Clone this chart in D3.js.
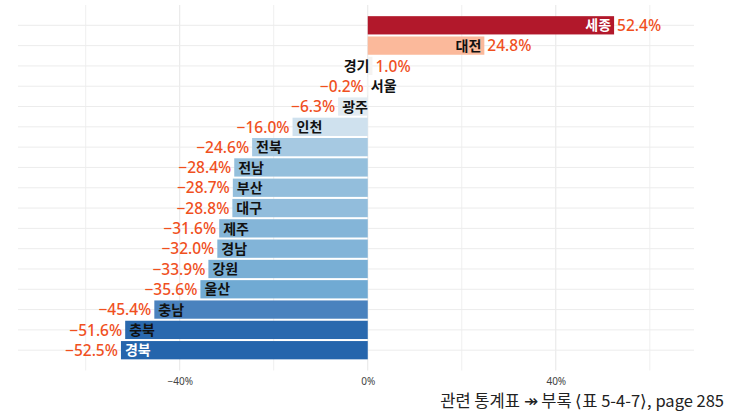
<!DOCTYPE html>
<html><head><meta charset="utf-8">
<script src="https://cdn.jsdelivr.net/npm/d3@7"></script>
<style>body{margin:0;background:#fff;}svg{display:block;}</style>
</head><body>
<script>
const regions = ["세종","대전","경기","서울","광주","인천","전북","전남","부산","대구","제주","경남","강원","울산","충남","충북","경북"];
const changes = [52.4,24.8,1.0,-0.2,-6.3,-16.0,-24.6,-28.4,-28.7,-28.8,-31.6,-32.0,-33.9,-35.6,-45.4,-51.6,-52.5];
const tickValues = [-40,0,40];
const tickLabels = ["-40%","0%","40%"];
const caption = "관련 통계표 ↠ 부록 ⟨표 5-4-7⟩, page 285";

const W=753,H=413;
const panel={left:18,right:694,top:5,bottom:370.5};
const svg=d3.select("body").append("svg").attr("width",W).attr("height",H);

const x=d3.scaleLinear().domain([-74.4,69.4]).range([panel.left,panel.right]);
const y=d3.scaleBand().domain(regions).range([panel.top,panel.bottom]).paddingInner(0.1).paddingOuter(0.55);
const fill=d3.scaleLinear()
  .domain([-52.5,-45.4,-35.6,-28.6,-16,-6.3,0,24.8,52.4])
  .range(["#2565AC","#4A82BE","#70AAD3","#93BEDC","#CFE1EE","#E2EBF2","#F5F5F5","#FBB99B","#B2182B"]);

// grid
const g=svg.append("g");
d3.range(-60,61,20).forEach(v=>{
  g.append("line").attr("x1",x(v)).attr("x2",x(v)).attr("y1",panel.top).attr("y2",panel.bottom)
   .attr("stroke",tickValues.includes(v)?"#E6E6E6":"#EFEFEF").attr("stroke-width",1);
});
regions.forEach(r=>{
  const cy=y(r)+y.bandwidth()/2;
  g.append("line").attr("x1",panel.left).attr("x2",panel.right).attr("y1",cy).attr("y2",cy)
   .attr("stroke","#ECECEC").attr("stroke-width",1);
});

// bars
svg.append("g").selectAll("rect").data(regions).join("rect")
  .attr("x",(d,i)=>x(Math.min(0,changes[i])))
  .attr("width",(d,i)=>Math.abs(x(changes[i])-x(0)))
  .attr("y",d=>y(d)).attr("height",y.bandwidth())
  .attr("fill",(d,i)=>fill(changes[i]));

const fmt=v=>(v<0?"−":"")+Math.abs(v).toFixed(1)+"%";
const pad=3;
// names
svg.append("g").selectAll("text").data(regions).join("text")
  .attr("x",(d,i)=>changes[i]>=0? x(changes[i])-pad : x(changes[i])+pad+1)
  .attr("y",d=>y(d)+y.bandwidth()/2)
  .attr("dy","0.37em")
  .attr("text-anchor",(d,i)=>changes[i]>=0?"end":"start")
  .attr("font-family","'Noto Sans CJK KR','Noto Sans',sans-serif")
  .attr("font-size",14).attr("font-weight",600)
  .attr("fill",(d,i)=>Math.abs(changes[i])>52?"#ffffff":"#111111")
  .text(d=>d);
// values
svg.append("g").selectAll("text").data(regions).join("text")
  .attr("x",(d,i)=>changes[i]>=0? x(changes[i])+pad : x(changes[i])-pad)
  .attr("y",d=>y(d)+y.bandwidth()/2)
  .attr("dy","0.37em")
  .attr("text-anchor",(d,i)=>changes[i]>=0?"start":"end")
  .attr("font-family","'Noto Sans',sans-serif")
  .attr("font-size",15.5).attr("font-weight",500)
  .attr("fill","#F0501E")
  .text((d,i)=>fmt(changes[i]));

// axis
const ax=d3.axisBottom(x).tickValues(tickValues).tickSize(0).tickFormat((d,i)=>tickLabels[i].replace("-","−"));
const axg=svg.append("g").attr("transform",`translate(0,${panel.bottom})`).call(ax);
axg.select(".domain").remove();
axg.selectAll("text").attr("font-family","'Noto Sans',sans-serif").attr("font-size",10).attr("fill","#444").attr("dy","1.1em");

// caption
svg.append("text").attr("x",724).attr("y",407).attr("text-anchor","end")
  .attr("font-family","'Noto Sans CJK KR','Noto Sans',sans-serif").attr("font-size",16.5).attr("fill","#222")
  .text(caption);
</script>
</body></html>
